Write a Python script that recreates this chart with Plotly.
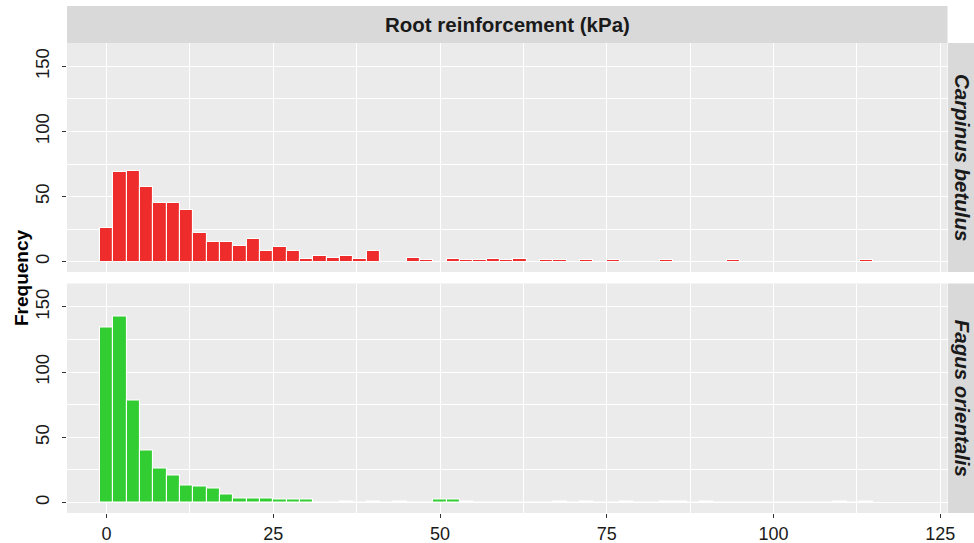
import plotly.graph_objects as go

# Histogram bins (kPa), width 2, centred on even values
bin_centers = list(range(0, 116, 2))

carpinus_counts = [26, 69, 70, 57, 45, 45, 40, 22, 15, 15,
                   12, 17, 8, 11, 8, 2, 4, 3, 4, 2,
                   8, 0, 0, 3, 1, 0, 2, 1, 1, 2,
                   1, 2, 0, 1, 1, 0, 1, 0, 1, 0,
                   0, 0, 1, 0, 0, 0, 0, 1, 0, 0,
                   0, 0, 0, 0, 0, 0, 0, 1]

fagus_counts = [134, 143, 78, 40, 26, 21, 13, 12, 11, 6,
                3, 3, 3, 2, 2, 2, 0, 0, 1, 0,
                1, 0, 1, 0, 0, 2, 2, 1, 0, 0,
                0, 0, 0, 0, 1, 0, 1, 0, 0, 1,
                0, 0, 1, 1, 0, 1, 0, 0, 0, 0,
                0, 0, 0, 0, 0, 1, 0, 1]

species = ["Carpinus betulus", "Fagus orientalis"]
fill_colors = ["#EE2C2C", "#32CD32"]

x_ticks = [0, 25, 50, 75, 100, 125]
y_ticks = [0, 50, 100, 150]

W, H = 974, 543
FONT = "Liberation Sans, Arial, sans-serif"
PANEL_BG = "#EBEBEB"
STRIP_BG = "#D9D9D9"

# panel geometry in pixels
px_left, px_right = 67, 947.5
top_panel = (43, 272)
bottom_panel = (283.5, 513)


def ydom(p):
    return [1 - p[1] / H, 1 - p[0] / H]


xdom = [px_left / W, px_right / W]

fig = go.Figure()
for i, (name, counts, col) in enumerate(zip(species, [carpinus_counts, fagus_counts], fill_colors)):
    sfx = "" if i == 0 else "2"
    fig.add_trace(go.Bar(
        x=bin_centers, y=counts, width=2,
        marker=dict(color=col, line=dict(color="white", width=1.1)),
        xaxis="x" + sfx, yaxis="y" + sfx, showlegend=False, name=name,
    ))

x_range = [-5.94, 126.1]
y_range = [-8, 168]

grid_common = dict(showgrid=True, gridcolor="white", gridwidth=1.1, zeroline=False,
                   showline=False, automargin=False)
xaxis_common = dict(grid_common, range=x_range, domain=xdom, tickmode="array",
                    tickvals=x_ticks, ticktext=[str(v) for v in x_ticks],
                    minor=dict(tickvals=[12.5, 37.5, 62.5, 87.5, 112.5], showgrid=True,
                               gridcolor="white", gridwidth=0.55))
yaxis_common = dict(grid_common, range=y_range, tickmode="array",
                    tickvals=y_ticks, ticktext=[str(v) for v in y_ticks],
                    ticks="outside", ticklen=4, tickwidth=1.1, tickcolor="#333333",
                    ticklabelstandoff=6,
                    tickangle=-90, tickfont=dict(family=FONT, size=18.5, color="#1A1A1A"),
                    minor=dict(tickvals=[25, 75, 125], showgrid=True,
                               gridcolor="white", gridwidth=0.55))

fig.update_layout(
    width=W, height=H,
    autosize=False,
    margin=dict(l=0, r=0, t=0, b=0, pad=0, autoexpand=False),
    paper_bgcolor="white",
    plot_bgcolor=PANEL_BG,
    bargap=0,
    xaxis=dict(xaxis_common, anchor="y", showticklabels=False, ticks=""),
    yaxis=dict(yaxis_common, domain=ydom(top_panel), anchor="x"),
    xaxis2=dict(xaxis_common, anchor="y2", matches="x", ticks="outside", ticklen=4,
                tickwidth=1.1, tickcolor="#333333",
                tickfont=dict(family=FONT, size=18, color="#1A1A1A")),
    yaxis2=dict(yaxis_common, domain=ydom(bottom_panel), anchor="x2"),
)

shapes = []
annotations = []

# top strip
shapes.append(dict(type="rect", xref="paper", yref="paper",
                   x0=px_left / W, x1=px_right / W, y0=1 - 43 / H, y1=1 - 6 / H,
                   fillcolor=STRIP_BG, line=dict(width=0), layer="below"))
annotations.append(dict(text="<b>Root reinforcement (kPa)</b>", xref="paper", yref="paper",
                        x=(px_left + px_right) / 2 / W, y=1 - 24.5 / H, showarrow=False,
                        xanchor="center", yanchor="middle",
                        font=dict(family=FONT, size=20.5, color="#1A1A1A")))

# right strips with species names
for name, p in zip(species, [top_panel, bottom_panel]):
    shapes.append(dict(type="rect", xref="paper", yref="paper",
                       x0=948 / W, x1=1.0, y0=1 - p[1] / H, y1=1 - p[0] / H,
                       fillcolor=STRIP_BG, line=dict(width=0), layer="below"))
    annotations.append(dict(text="<b><i>%s</i></b>" % name, xref="paper", yref="paper",
                            x=962.5 / W, y=1 - (p[0] + p[1]) / 2 / H, showarrow=False,
                            textangle=90, xanchor="center", yanchor="middle",
                            font=dict(family=FONT, size=20.5, color="#1A1A1A")))

# y axis title
annotations.append(dict(text="<b>Frequency</b>", xref="paper", yref="paper",
                        x=21 / W, y=1 - 278 / H, showarrow=False, textangle=-90,
                        xanchor="center", yanchor="middle",
                        font=dict(family=FONT, size=19, color="black")))

fig.update_layout(shapes=shapes, annotations=annotations)
fig.write_html("out.html")
